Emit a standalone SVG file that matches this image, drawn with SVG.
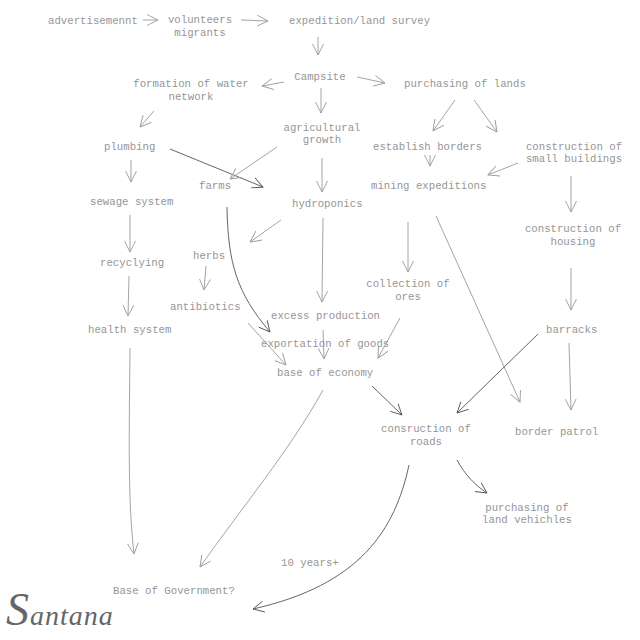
<svg xmlns="http://www.w3.org/2000/svg" width="640" height="640" viewBox="0 0 640 640">
<style>
text{font-family:"Liberation Mono","DejaVu Sans Mono",monospace;font-size:10.7px;fill:#969696}
.m{text-anchor:middle}
.c path{fill:none;stroke:#9a9a9a;stroke-width:0.9;marker-end:url(#a)}
.c path.d{stroke:#555;marker-end:url(#b)}
.sig{font-family:"Liberation Serif","DejaVu Serif",serif;font-style:italic;fill:#666}
</style>
<defs>
<marker id="a" viewBox="0 0 12 12" refX="11" refY="6" markerWidth="12" markerHeight="12" markerUnits="userSpaceOnUse" orient="auto"><path d="M0,0.5 L11,6 L0,11.5" fill="none" stroke="#9a9a9a" stroke-width="0.9"/></marker>
<marker id="b" viewBox="0 0 12 12" refX="11" refY="6" markerWidth="12" markerHeight="12" markerUnits="userSpaceOnUse" orient="auto"><path d="M0,0.5 L11,6 L0,11.5" fill="none" stroke="#555" stroke-width="0.9"/></marker>
</defs>
<rect width="640" height="640" fill="#fff"/>
<g class="c" id="connectors">
<path d="M143,20 L158,20"/>
<path d="M241,20 L268,21"/>
<path d="M318,37 L318,55"/>
<path d="M284,82 L262,86"/>
<path d="M357,77 L385,83"/>
<path d="M321,88 L321,113"/>
<path d="M154,111 L140,127"/>
<path d="M455,100 L433,131"/>
<path d="M474,100 L497,132"/>
<path class="d" d="M170,149 L263,187"/>
<path d="M277,147 L230,179"/>
<path d="M430,155 L430,166"/>
<path d="M518,163 L488,175"/>
<path d="M322,158 L322,192"/>
<path d="M131,160 L131,182"/>
<path d="M571,176 L571,212"/>
<path d="M281,220 L250,242"/>
<path class="d" d="M227,207 C228,262 236,292 270,332"/>
<path d="M130,215 L130,252"/>
<path d="M206,266 L204,290"/>
<path d="M408,222 L408,272"/>
<path d="M436,216 L520,402"/>
<path d="M323,218 L322,302"/>
<path d="M129,276 L128,316"/>
<path d="M571,268 L571,310"/>
<path d="M248,323 L286,365"/>
<path d="M323,330 L324,359"/>
<path d="M400,318 L378,358"/>
<path d="M130,348 C129,450 128,500 134,554"/>
<path d="M323,390 C290,450 240,510 200,567"/>
<path class="d" d="M372,386 L402,415"/>
<path class="d" d="M538,334 L457,413"/>
<path d="M569,343 L571,410"/>
<path class="d" d="M457,460 C465,475 475,485 487,493"/>
<path class="d" d="M409,465 C395,530 360,585 253,609"/>
</g>
<g id="n1"><text x="48" y="24">advertisemennt</text></g>
<g id="n2"><text class="m" x="200" y="23">volunteers</text><text class="m" x="200" y="36">migrants</text></g>
<g id="n3"><text x="289" y="24">expedition/land survey</text></g>
<g id="n4"><text class="m" x="320" y="80">Campsite</text></g>
<g id="n5"><text class="m" x="191" y="87">formation of water</text><text class="m" x="191" y="100">network</text></g>
<g id="n6"><text x="404" y="87">purchasing of lands</text></g>
<g id="n7"><text class="m" x="322" y="131">agricultural</text><text class="m" x="322" y="143">growth</text></g>
<g id="n8"><text x="104" y="150">plumbing</text></g>
<g id="n9"><text x="373" y="150">establish borders</text></g>
<g id="n10"><text class="m" x="574" y="150">construction of</text><text class="m" x="574" y="162">small buildings</text></g>
<g id="n11"><text x="199" y="189">farms</text></g>
<g id="n12"><text x="371" y="189">mining expeditions</text></g>
<g id="n13"><text x="292" y="207">hydroponics</text></g>
<g id="n14"><text x="90" y="205">sewage system</text></g>
<g id="n15"><text class="m" x="573" y="232">construction of</text><text class="m" x="573" y="245">housing</text></g>
<g id="n16"><text x="100" y="266">recyclying</text></g>
<g id="n17"><text x="193" y="259">herbs</text></g>
<g id="n18"><text class="m" x="408" y="287">collection of</text><text class="m" x="408" y="300">ores</text></g>
<g id="n19"><text x="170" y="310">antibiotics</text></g>
<g id="n20"><text x="271" y="319">excess production</text></g>
<g id="n21"><text x="88" y="333">health system</text></g>
<g id="n22"><text x="546" y="333">barracks</text></g>
<g id="n23"><text x="261" y="347">exportation of goods</text></g>
<g id="n24"><text x="277" y="376">base of economy</text></g>
<g id="n25"><text class="m" x="426" y="432">consruction of</text><text class="m" x="426" y="445">roads</text></g>
<g id="n26"><text x="515" y="435">border patrol</text></g>
<g id="n27"><text class="m" x="527" y="511">purchasing of</text><text class="m" x="527" y="523">land vehichles</text></g>
<g id="n28"><text x="281" y="566">10 years+</text></g>
<g id="n29"><text x="113" y="594">Base of Government?</text></g>
<g id="signature"><text class="sig" x="6" y="625" letter-spacing="1"><tspan font-size="46">S</tspan><tspan font-size="28">antana</tspan></text></g>
</svg>
